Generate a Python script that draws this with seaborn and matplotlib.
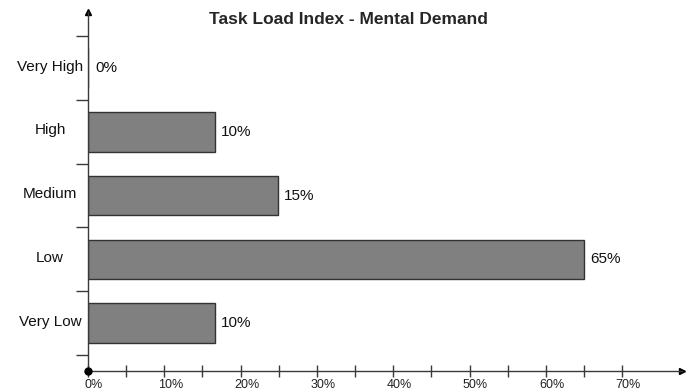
import matplotlib
matplotlib.use("Agg")
import matplotlib.pyplot as plt
import matplotlib.transforms as mtransforms
import seaborn as sns
import numpy as np

# data
categories = ["Very High", "High", "Medium", "Low", "Very Low"]
pct_labels = [0, 10, 15, 65, 10]               # printed next to each bar
bar_lengths = [0, 16.6, 24.9, 65.0, 16.6]      # drawn length, in x-axis units
x_ticks = [0, 5, 10, 15, 20, 25, 30, 35, 40, 45, 50, 55, 60, 65, 70]
x_ticklabels = ["0%", "10%", "20%", "30%", "40%", "50%", "60%", "70%"]

sns.set_style("white")
plt.rcParams["font.family"] = ["Liberation Sans", "DejaVu Sans"]

AX_COLOR = "#3a3a3a"

fig = plt.figure(figsize=(6.94, 3.92), dpi=100)
ax = fig.add_axes([88 / 694, 21 / 392, 594 / 694, 359 / 392])

sns.barplot(x=bar_lengths, y=categories, orient="h", ax=ax,
            color="#808080", saturation=1, edgecolor="#333333",
            linewidth=1.0, width=0.62)

ax.set_xlim(0, 594 / 7.63)
ax.set_ylim(4.753, -0.883)

# spines: only left and bottom, drawn as arrows
for side in ["top", "right"]:
    ax.spines[side].set_visible(False)
for side in ["left", "bottom"]:
    ax.spines[side].set_color(AX_COLOR)
    ax.spines[side].set_linewidth(1.0)
ax.plot(1, 0, ">", color="black", markersize=5, transform=ax.transAxes, clip_on=False)
ax.plot(0, 1, "^", color="black", markersize=5, transform=ax.transAxes, clip_on=False)
ax.plot(0, 0, "o", color="black", markersize=5, transform=ax.transAxes, clip_on=False, zorder=5)

# x axis ticks: every 5, labels every 10
ax.set_xticks(x_ticks[::2])
ax.set_xticklabels(x_ticklabels, fontsize=9, color="#222222")
ax.set_xticks(x_ticks[1::2], minor=True)
ax.tick_params(axis="x", which="both", direction="inout", length=8.6,
               width=1.0, color=AX_COLOR, pad=1.8, bottom=True)
shift = mtransforms.ScaledTranslation(6 / 100, 0, fig.dpi_scale_trans)
for lab in ax.get_xticklabels():
    lab.set_transform(lab.get_transform() + shift)

# y axis: labels at categories, tick marks between them
ax.set_yticks(range(len(categories)))
ax.set_yticklabels(categories, fontsize=11, color="#111111", ha="center")
ax.set_yticks(np.arange(-0.5, len(categories), 1.0), minor=True)
ax.tick_params(axis="y", which="major", length=0, pad=27.4)
ax.tick_params(axis="y", which="minor", direction="out", length=8.6,
               width=1.0, color=AX_COLOR, left=True)
up = mtransforms.ScaledTranslation(0, 3 / 100, fig.dpi_scale_trans)
for lab in ax.get_yticklabels():
    lab.set_transform(lab.get_transform() + up)
ax.set_xlabel("")
ax.set_ylabel("")

# value labels
for i, (length, pct) in enumerate(zip(bar_lengths, pct_labels)):
    ax.annotate(f"{pct}%", xy=(length, i), xytext=(5.5 if pct == 0 else 4.5, 0),
                textcoords="offset points", va="center", ha="left",
                fontsize=11, color="#111111")

fig.text(348 / 694, 1 - 20 / 392, "Task Load Index - Mental Demand",
         ha="center", va="center", fontsize=12.5, fontweight="bold")

fig.savefig("out.png", dpi=100)
